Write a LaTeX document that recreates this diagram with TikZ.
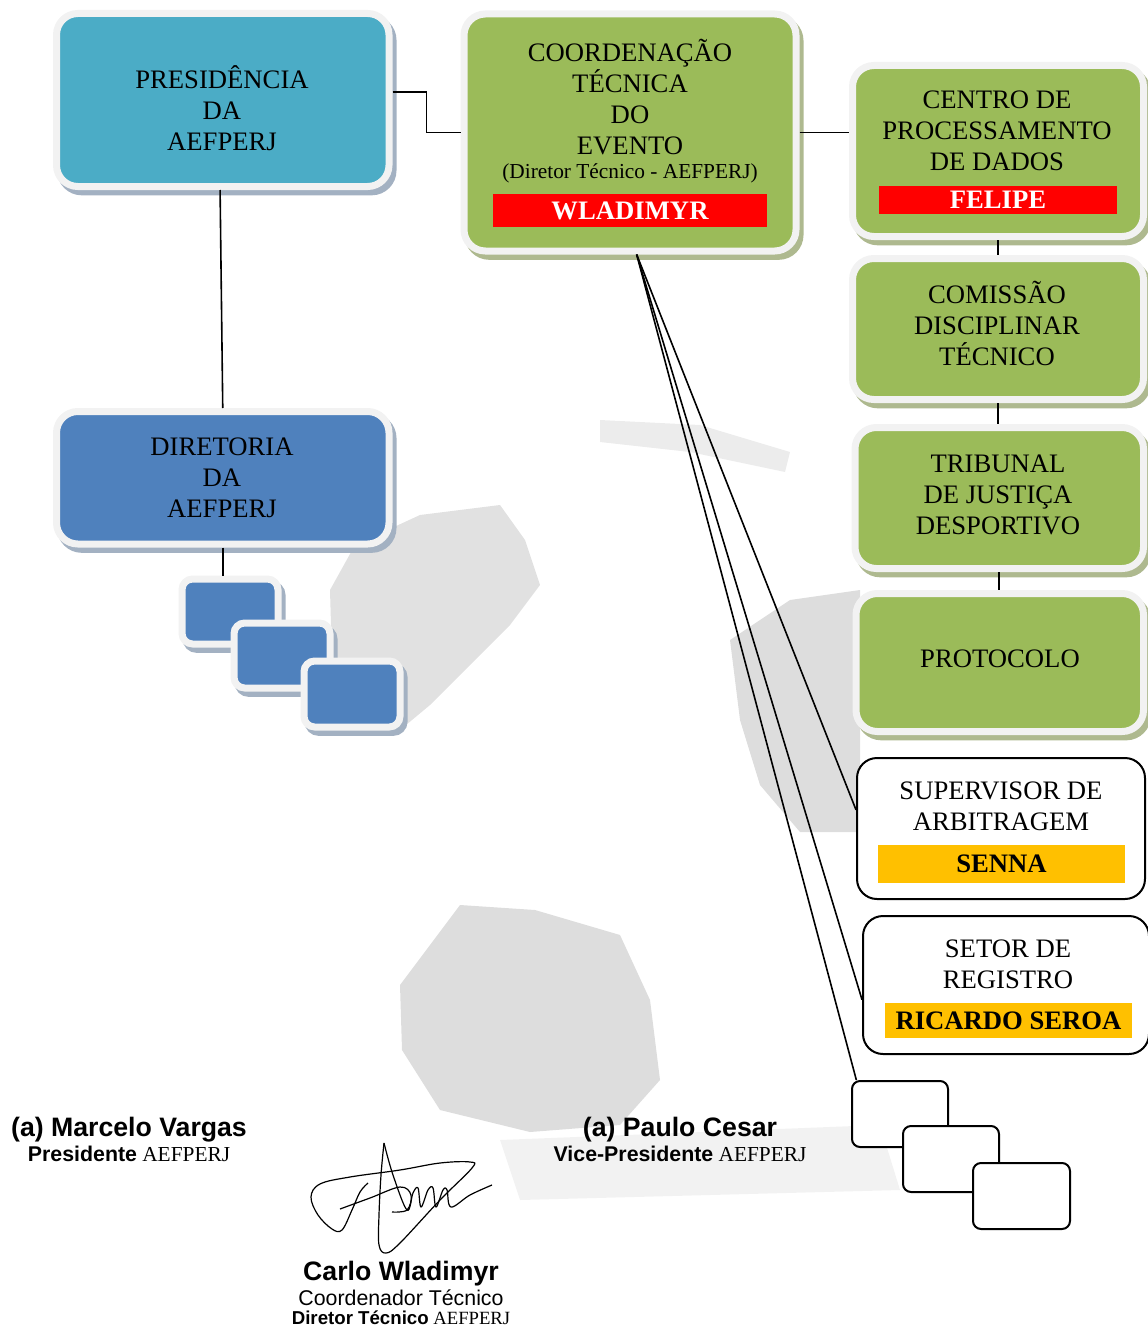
\documentclass[tikz,border=0pt]{standalone}
\usepackage{fontspec}
\setmainfont{Liberation Serif}
\newfontfamily\arialfont{Liberation Sans}
\usetikzlibrary{fit,shadows}

\definecolor{presblue}{HTML}{4BACC6}
\definecolor{dirblue}{HTML}{4F81BD}
\definecolor{orggreen}{HTML}{9BBB59}
\definecolor{rimgray}{HTML}{F2F2F2}
\definecolor{shadeblue}{HTML}{A3B1C2}
\definecolor{shadegreen}{HTML}{AEB98F}
\definecolor{barred}{HTML}{FF0000}
\definecolor{baryellow}{HTML}{FFC000}
\definecolor{markgray}{HTML}{D4D4D4}

\tikzset{
  rimbox/.style={inner sep=0pt, rounded corners=16pt, draw=rimgray, line width=5.25pt},
  bluebox/.style={rimbox, fill=#1, drop shadow={shadow xshift=3pt, shadow yshift=-4pt, fill=shadeblue, draw=shadeblue, line width=5.25pt, opacity=1}},
  greenbox/.style={rimbox, fill=orggreen, drop shadow={shadow xshift=3pt, shadow yshift=-4pt, fill=shadegreen, draw=shadegreen, line width=5.25pt, opacity=1}},
  smallbox/.style={bluebox=dirblue, rounded corners=8pt},
  boxtext/.style={anchor=base, align=center, font=\fontsize{20}{23.25}\selectfont},
  namebar/.style={inner sep=0pt, fill=#1},
  bartext/.style={inner sep=0pt, font=\fontsize{20}{24}\selectfont\bfseries},
  linebox/.style={inner sep=0pt, draw=black, line width=1.5pt, fill=white, rounded corners=#1},
  link/.style={draw=black, line width=1.2pt},
  signname/.style={anchor=base, font=\arialfont\bfseries\fontsize{20}{24}\selectfont},
  signrole/.style={anchor=base, font=\fontsize{16}{19}\selectfont},
}

\begin{document}
\begin{tikzpicture}[x=0.75pt, y=-0.75pt]
\useasboundingbox (0,0) rectangle (1147,1327);

% faded ball in the background
\fill[markgray!70] (330,590) -- (355,545) -- (420,515) -- (500,505) -- (525,540) -- (540,585) -- (510,625) -- (470,665) -- (430,705) -- (400,730) -- (360,722) -- (332,660) -- cycle;
\fill[markgray!80] (400,985) -- (460,905) -- (535,910) -- (620,935) -- (650,1000) -- (660,1080) -- (620,1125) -- (530,1132) -- (440,1110) -- (402,1050) -- cycle;
\fill[markgray!80] (730,640) -- (790,600) -- (860,590) -- (860,832) -- (800,832) -- (760,785) -- (740,720) -- cycle;
\fill[markgray!45] (600,420) -- (700,425) -- (790,452) -- (785,472) -- (690,452) -- (600,442) -- cycle;
\fill[markgray!30] (500,1140) -- (880,1125) -- (900,1190) -- (520,1200) -- cycle;

% presidencia and diretoria
\node[bluebox=presblue, fit={(56.5,13.5) (389,186.5)}] (pres) {};
\node[boxtext] (prestext) at (222,151) {PRESIDÊNCIA\\DA\\AEFPERJ};
\node[bluebox=dirblue, fit={(56.5,411.5) (389,544)}] (dir) {};
\node[boxtext] (dirtext) at (222,517) {DIRETORIA\\DA\\AEFPERJ};
\node[smallbox, fit={(182,579) (278,644)}] (sb1) {};
\node[smallbox, fit={(234,623) (330,688)}] (sb2) {};
\node[smallbox, fit={(304,661) (400,727)}] (sb3) {};

% coordenacao
\node[greenbox, fit={(464,14) (796,251)}] (coord) {};
\node[boxtext] (coordtext) at (630,155) {COORDENAÇÃO\\TÉCNICA\\DO\\EVENTO};
\node[signrole] (coordsub) at (630,179) {(Diretor Técnico - AEFPERJ)};
\node[namebar=barred, fit={(493,194) (767,227)}, label={[bartext, text=white]center:WLADIMYR}] (wlad) {};

% right column
\node[greenbox, fit={(852.5,65.5) (1143.5,236.5)}] (cpd) {};
\node[boxtext] (cpdtext) at (997,171) {CENTRO DE\\PROCESSAMENTO\\DE DADOS};
\node[namebar=barred, fit={(879,186) (1117,214)}, label={[bartext, text=white]center:FELIPE}] (felipe) {};
\node[greenbox, fit={(852.5,258.5) (1143.5,399.5)}] (comis) {};
\node[boxtext] (comistext) at (997,365) {COMISSÃO\\DISCIPLINAR\\TÉCNICO};
\node[greenbox, fit={(855,427.5) (1143.5,568.5)}] (trib) {};
\node[boxtext] (tribtext) at (998,534) {TRIBUNAL\\DE JUSTIÇA\\DESPORTIVO};
\node[greenbox, fit={(856,593.5) (1143.5,731.5)}] (prot) {};
\node[boxtext] (prottext) at (1000,667) {PROTOCOLO};

\node[linebox=15pt, fit={(857,758) (1145,899)}] (sup) {};
\node[boxtext] (suptext) at (1001,830) {SUPERVISOR DE\\ARBITRAGEM};
\node[namebar=baryellow, fit={(878,845) (1125,883)}, label={[bartext]center:SENNA}] (senna) {};
\node[linebox=15pt, fit={(863,916) (1149,1054)}] (setor) {};
\node[boxtext] (setortext) at (1008,988) {SETOR DE\\REGISTRO};
\node[namebar=baryellow, fit={(885,1003) (1132,1038)}, label={[bartext]center:RICARDO SEROA}] (seroa) {};

\node[linebox=6pt, fit={(852,1081) (948,1147)}] (wb1) {};
\node[linebox=6pt, fit={(903,1126) (999,1192)}] (wb2) {};
\node[linebox=6pt, fit={(973,1163) (1070,1229)}] (wb3) {};

% links
\draw[link] ([yshift=6pt]pres.east) -- ++(34,0) |- (coord.west);
\draw[link] (coord.east) -- (coord.east -| cpd.west);
\draw[link] ([xshift=-2pt]pres.south) -- (dir.north);
\draw[link] (dir.south) -- (dir.south |- sb1.north);
\draw[link] (cpd.south) -- (comis.north);
\draw[link] (comis.south) -- (comis.south |- trib.north);
\draw[link] (trib.south) -- (trib.south |- prot.north);
\draw[link] ([xshift=5pt]coord.south) -- ([yshift=14pt]sup.west);
\draw[link] ([xshift=5pt]coord.south) -- ([yshift=-11pt]setor.west);
\draw[link] ([xshift=5pt]coord.south) -- ([xshift=4pt]wb1.north west);

% signatures
\node[signname] (marcelo) at (129,1136) {(a) Marcelo Vargas};
\node[signrole] (marcelorole) at (129,1161) {{\arialfont\bfseries Presidente} AEFPERJ};
\node[signname] (paulo) at (680,1136) {(a) Paulo Cesar};
\node[signrole] (paulorole) at (680,1161) {{\arialfont\bfseries Vice-Presidente} AEFPERJ};
\node[signname] (carlo) at (401,1280) {Carlo Wladimyr};
\node[signrole] (carlorole) at (401,1305) {\arialfont Coordenador Técnico};
\node[signrole, font=\fontsize{14}{17}\selectfont] (carlodir) at (401,1324) {{\arialfont\bfseries Diretor Técnico} AEFPERJ};

\draw[line width=0.9pt, line join=round] plot[smooth, tension=0.6] coordinates {(384,1143) (381,1175) (379,1215) (379,1245) (386,1253) (400,1243) (440,1200) (472,1168) (470,1162) (440,1163) (400,1170) (350,1177) (320,1184) (311,1197) (318,1215) (332,1229) (342,1230) (352,1210) (360,1192) (368,1183)};
\draw[line width=0.9pt, line join=round] plot[smooth, tension=0.6] coordinates {(384,1143) (393,1175) (407,1210) (413,1193) (418,1188) (421,1207) (428,1190) (433,1188) (436,1207) (443,1190) (447,1190) (451,1207) (470,1195) (492,1185)};
\draw[line width=0.9pt, line join=round] plot[smooth, tension=0.6] coordinates {(340,1209) (370,1198) (400,1187) (411,1195) (407,1210) (392,1212)};
\end{tikzpicture}
\end{document}
